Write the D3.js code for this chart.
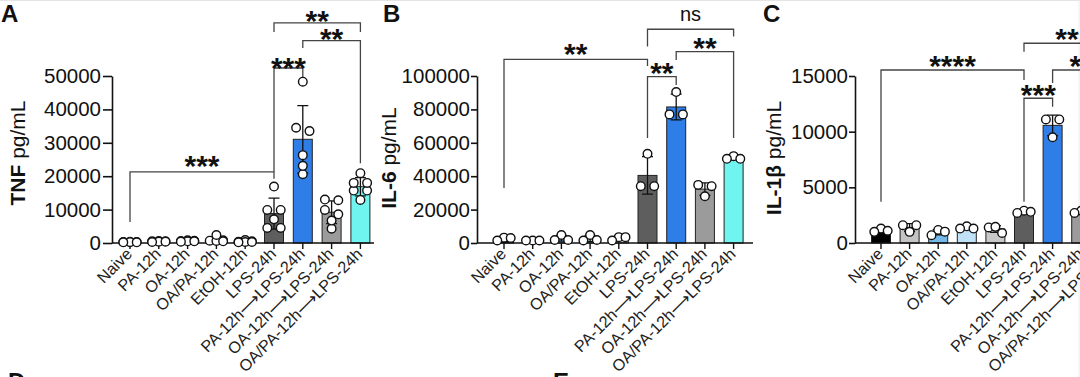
<!DOCTYPE html>
<html><head><meta charset="utf-8">
<script src="https://cdn.jsdelivr.net/npm/d3@7"></script>
<style>html,body{margin:0;padding:0;background:#fff;overflow:hidden}svg{display:block}</style>
</head><body>
<svg id="chart" width="1080" height="377"></svg>
<script>
// ---------- DATA ----------
const categories = ["Naive","PA-12h","OA-12h","OA/PA-12h","EtOH-12h","LPS-24h",
  "PA-12h\u27F6LPS-24h","OA-12h\u27F6LPS-24h","OA/PA-12h\u27F6LPS-24h"];

const tnfTicks = [0,10000,20000,30000,40000,50000];
const il6Ticks = [0,20000,40000,60000,80000,100000];
const il1bTicks = [0,5000,10000,15000];

// individual replicate values (pg/mL), one array per category
const tnfValues = [
  [200,300,250,350,200,300],
  [400,500,300,600,400,500],
  [500,700,400,800,600,500],
  [2400,700,500,900,600,800],
  [300,900,200,400,500,300],
  [16900,9900,9900,7100,4500,4500],
  [48300,34500,33500,26300,23100,20600],
  [13000,12800,9900,8600,6700,4300],
  [20900,18000,18000,15700,15700,12900]
];
const il6Values = [
  [3000,3200,1500],
  [1500,1500,1500],
  [4800,1800,1800],
  [4800,1500,1800],
  [3500,3500,1500],
  [53400,34000,34000],
  [90400,77000,77000],
  [34800,34000,28000],
  [50400,52000,50400]
];
const il1bValues = [
  [1000,1300,1100],
  [1600,1600,1000],
  [700,1170,1020],
  [1300,1500,1300],
  [900,1400,1450],
  [2700,2900,2800],
  [11100,11100,9500],
  [2800,2900,2700],
  [3000,3100,2900]
];

// significance brackets: category indices, heights in data units, label
const tnfBrackets = [
  {from:0,to:5,line:21300,leftEnd:6300,rightEnd:19200,label:"***",labelAt:25100},
  {from:5,to:6,line:52400,leftEnd:21300,rightEnd:49700,label:"***",labelAt:54200},
  {from:6,to:8,line:60600,leftEnd:58400,rightEnd:23900,label:"**",labelAt:62900},
  {from:5,to:8,line:65900,leftEnd:63200,rightEnd:63200,label:"**",labelAt:68300}
];
const il6Brackets = [
  {from:0,to:5,line:110000,leftEnd:32900,rightEnd:106000,label:"**",labelAt:117000},
  {from:5,to:6,line:99600,leftEnd:62900,rightEnd:94600,label:"**",labelAt:105400},
  {from:6,to:8,line:114600,leftEnd:109600,rightEnd:62900,label:"**",labelAt:120400},
  {from:5,to:8,line:128000,leftEnd:117600,rightEnd:123600,label:"ns",labelAt:136000}
];
const il1bBrackets = [
  {from:0,to:5,line:15540,leftEnd:3710,rightEnd:14640,label:"****",labelAt:16440},
  {from:5,to:6,line:13000,leftEnd:3710,rightEnd:12240,label:"***",labelAt:13920},
  {from:6,to:8,line:15540,leftEnd:14370,rightEnd:14370,label:"**",labelAt:16440},
  {from:5,to:8,line:17940,leftEnd:17180,rightEnd:17180,label:"**",labelAt:18910}
];

// ---------- STYLE / LAYOUT ----------
const barColors = ["#000000","#c4c4c4","#74b9e8","#bfe2f7","#c8c8c8","#5e5e5e","#2f7de6","#9b9b9b","#70f4ef"];
const FONT = "'Liberation Sans', Arial, Helvetica, 'DejaVu Sans', sans-serif";
const Y0 = 243, YTOP = 76;

const panels = [
  {letter:"A", letterX:1, values:tnfValues, ticks:tnfTicks, max:50000, axisX:112, first:130, step:28.8, axisEnd:374,
   labBold:"TNF", labRest:" pg/mL", labX:25, labY:153, tickSize:9, tickPad:2, brackets:tnfBrackets},
  {letter:"B", letterX:383, values:il6Values, ticks:il6Ticks, max:100000, axisX:477, first:504, step:28.7, axisEnd:753,
   labBold:"IL-6", labRest:" pg/mL", labX:396, labY:158, tickSize:6, tickPad:1, brackets:il6Brackets},
  {letter:"C", letterX:763, values:il1bValues, ticks:il1bTicks, max:15000, axisX:855, first:881, step:28.6, axisEnd:1100,
   labBold:"IL-1\u03b2", labRest:" pg/mL", labX:781, labY:158, tickSize:6, tickPad:1, brackets:il1bBrackets}
];

const svg = d3.select("#chart").style("font-family", FONT);

// faint frame edges seen in the picture
svg.append("line").attr("x1",0).attr("x2",1080).attr("y1",0.5).attr("y2",0.5).attr("stroke","#e4e4e4");
svg.append("line").attr("x1",1079).attr("x2",1079).attr("y1",0).attr("y2",377).attr("stroke","#ececec");

function mean(a){return d3.mean(a);}
function sd(a){return d3.deviation(a)||0;}

panels.forEach(p => {
  const g = svg.append("g");
  const x = d3.scalePoint().domain(categories).range([p.first, p.first + p.step*(categories.length-1)]);
  const y = d3.scaleLinear().domain([0,p.max]).range([Y0,YTOP]);
  const bw = 19;

  // panel letter
  g.append("text").attr("x",p.letterX).attr("y",22).attr("font-size",24).attr("font-weight","bold")
    .attr("fill","#111").text(p.letter);

  // y label
  const yl = g.append("text").attr("transform",`translate(${p.labX},${p.labY}) rotate(-90)`)
    .attr("text-anchor","middle").attr("font-size",21).attr("fill","#111");
  yl.append("tspan").attr("font-weight","bold").text(p.labBold);
  yl.append("tspan").text(p.labRest);

  // bars
  const stats = p.values.map((v,i)=>({cat:categories[i], i, m:mean(v), s:sd(v), v}));
  g.selectAll("rect.bar").data(stats).enter().append("rect")
    .attr("x",d=>x(d.cat)-bw/2).attr("width",bw)
    .attr("y",d=>y(d.m)).attr("height",d=>Y0-y(d.m))
    .attr("fill",(d)=>barColors[d.i]).attr("stroke","#222").attr("stroke-width",1);

  // error bars (mean ± SD)
  stats.forEach(d=>{
    const cx = x(d.cat), hi = y(d.m+d.s), lo = y(Math.max(0,d.m-d.s));
    g.append("path").attr("d",`M${cx},${lo}V${hi}M${cx-5.5},${hi}H${cx+5.5}M${cx-5.5},${lo}H${cx+5.5}`)
      .attr("stroke","#111").attr("stroke-width",1.3).attr("fill","none");
  });

  // y axis
  const ya = g.append("g").attr("transform",`translate(${p.axisX},0)`)
    .call(d3.axisLeft(y).tickValues(p.ticks).tickSize(p.tickSize).tickPadding(p.tickPad).tickSizeOuter(0).tickFormat(d=>String(d)));
  ya.selectAll("path,line").attr("stroke","#111").attr("stroke-width",1.6);
  ya.selectAll("text").attr("font-size",20.5).attr("fill","#111").attr("font-family",FONT);

  // x axis
  g.append("line").attr("x1",p.axisX).attr("x2",p.axisEnd).attr("y1",Y0).attr("y2",Y0)
    .attr("stroke","#111").attr("stroke-width",1.6);
  categories.forEach(c=>{
    g.append("line").attr("x1",x(c)).attr("x2",x(c)).attr("y1",Y0).attr("y2",Y0+6)
      .attr("stroke","#111").attr("stroke-width",1.4);
    g.append("text").attr("transform",`translate(${x(c)+3},${Y0+12}) rotate(-45)`)
      .attr("text-anchor","end").attr("font-size",16.2).attr("fill","#222").text(c);
  });

  // points: simple row-based swarm
  const s = 6.7;
  stats.forEach(d=>{
    const cx = x(d.cat);
    const sorted = d.v.slice().sort((a,b)=>a-b);
    const rows = [];
    sorted.forEach(v=>{
      const last = rows[rows.length-1];
      if (last && Math.abs(y(last[0]) - y(v)) <= 6) last.push(v); else rows.push([v]);
    });
    rows.forEach(r=>{
      const desc = r.slice().sort((a,b)=>b-a);
      let offs;
      if (desc.length===1) offs=[0];
      else if (desc.length===2) offs=[-s,s];
      else offs = desc.map((_,k)=>[0,s,-s][k%3]);
      desc.forEach((v,k)=>{
        g.append("circle").attr("cx",cx+offs[k]).attr("cy",y(v)).attr("r",4.3)
          .attr("fill","#fff").attr("stroke","#111").attr("stroke-width",1.4);
      });
    });
  });

  // brackets
  p.brackets.forEach(b=>{
    const x1 = x(categories[b.from]), x2 = x(categories[b.to]);
    g.append("path").attr("d",`M${x1},${y(b.leftEnd)}V${y(b.line)}H${x2}V${y(b.rightEnd)}`)
      .attr("fill","none").attr("stroke","#444").attr("stroke-width",1.3);
    const cy = y(b.labelAt), mx = (x1+x2)/2;
    if (b.label==="ns") {
      g.append("text").attr("x",mx).attr("y",cy+5).attr("text-anchor","middle")
        .attr("font-size",20).attr("fill","#111").text(b.label);
    } else {
      g.append("text").attr("x",mx).attr("y",cy+16.5).attr("text-anchor","middle")
        .attr("font-size",30).attr("font-weight","bold").attr("fill","#111").text(b.label);
    }
  });
});

// next-row panel letters (cut by the bottom edge)
svg.append("text").attr("x",8).attr("y",390).attr("font-size",24).attr("font-weight","bold").attr("fill","#111").text("D");
svg.append("text").attr("x",553).attr("y",390).attr("font-size",24).attr("font-weight","bold").attr("fill","#111").text("E");
</script>
</body></html>
